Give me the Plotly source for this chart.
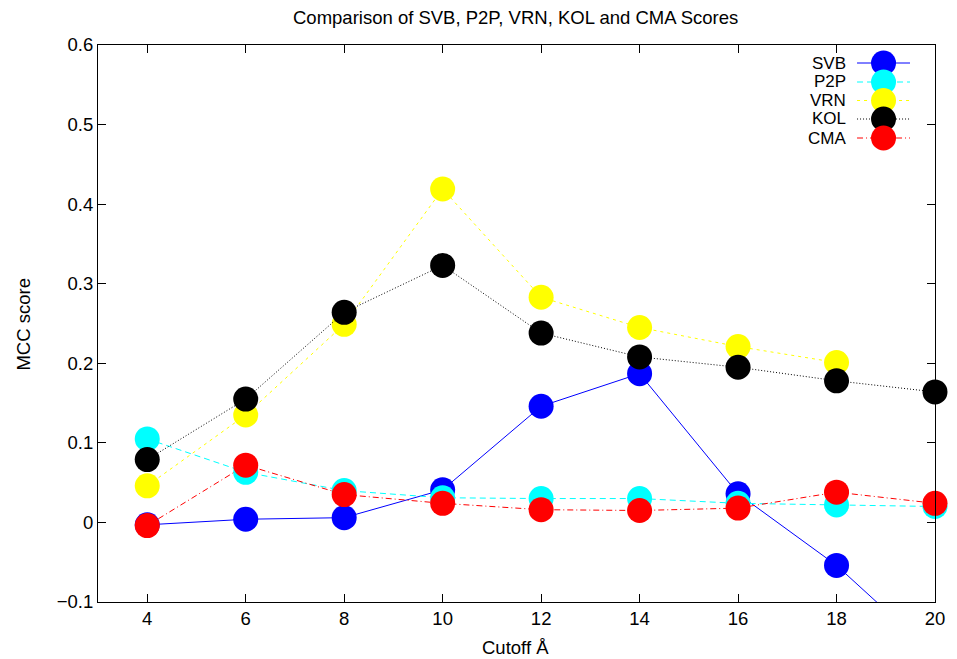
import plotly.graph_objects as go

cutoff = [4, 6, 8, 10, 12, 14, 16, 18, 20]
svb = [-0.003, 0.004, 0.006, 0.041, 0.146, 0.187, 0.036, -0.054, -0.167]
p2p = [0.105, 0.063, 0.040, 0.031, 0.030, 0.030, 0.024, 0.022, 0.020]
vrn = [0.046, 0.135, 0.249, 0.419, 0.283, 0.245, 0.221, 0.201, None]
kol = [0.079, 0.155, 0.264, 0.323, 0.238, 0.208, 0.195, 0.178, 0.164]
cma = [-0.004, 0.072, 0.035, 0.024, 0.016, 0.015, 0.018, 0.038, 0.024]

names = ["SVB", "P2P", "VRN", "KOL", "CMA"]
colors = ["#0000ff", "#00ffff", "#ffff00", "#000000", "#ff0000"]
dashes = ["solid", "6px,4px", "3px,4px", "1px,2px", "6px,3px,1px,3px"]
series = [svb, p2p, vrn, kol, cma]

FONT = "Liberation Sans, Arial, Helvetica, sans-serif"
FS = 18.5
LEG_FS = 17

fig = go.Figure()
for name, col, dash, ys in zip(names, colors, dashes, series):
    fig.add_trace(go.Scatter(
        x=cutoff, y=ys, name=name, mode="lines+markers",
        line=dict(color=col, width=1, dash=dash),
        marker=dict(color=col, size=25, line=dict(width=0)),
        cliponaxis=(name == "SVB"),
        showlegend=False,
    ))

FW, FH = 957, 659
# plot area in page pixels
L, R, T, B = 97.5, 935.0, 45.0, 602.0
W, H = R - L, B - T


def px(x):
    return (x - L) / W


def py(y):
    return (B - y) / H


shapes = []
annotations = []
row_y = [63, 82, 100.5, 119, 138]
for name, col, dash, yy in zip(names, colors, dashes, row_y):
    shapes.append(dict(type="line", xref="paper", yref="paper",
                       x0=px(857), x1=px(910), y0=py(yy), y1=py(yy),
                       line=dict(color=col, width=1, dash=dash)))
    annotations.append(dict(text=name, xref="paper", yref="paper",
                            x=px(847), y=py(yy), xanchor="right", yanchor="middle",
                            borderpad=0,
                            showarrow=False, font=dict(family=FONT, size=LEG_FS, color="black")))
for name, col, yy in zip(names, colors, row_y):
    shapes.append(dict(type="circle", xref="paper", yref="paper",
                       xsizemode="pixel", ysizemode="pixel",
                       xanchor=px(883.5), yanchor=py(yy),
                       x0=-12.5, x1=12.5, y0=-12.5, y1=12.5,
                       fillcolor=col, line=dict(width=0)))

# axis titles and chart title
annotations.append(dict(text="Cutoff Å", xref="paper", yref="paper",
                        x=px(515), y=py(647), xanchor="center", yanchor="middle",
                        showarrow=False, font=dict(family=FONT, size=FS, color="black")))
annotations.append(dict(text="MCC score", xref="paper", yref="paper",
                        x=px(22), y=py(324), xanchor="center", yanchor="middle",
                        textangle=-90,
                        showarrow=False, font=dict(family=FONT, size=FS, color="black")))
annotations.append(dict(text="Comparison of SVB, P2P, VRN, KOL and CMA Scores",
                        xref="paper", yref="paper",
                        x=px(515.5), y=py(18), xanchor="center", yanchor="middle",
                        showarrow=False, font=dict(family=FONT, size=FS, color="black")))

fig.update_layout(
    width=FW, height=FH,
    margin=dict(l=L, r=FW - R, t=T, b=FH - B, autoexpand=False),
    paper_bgcolor="white", plot_bgcolor="white",
    font=dict(family=FONT, size=FS, color="black"),
    shapes=shapes, annotations=annotations,
    showlegend=False,
)
fig.update_xaxes(
    range=[3, 20], tickmode="array", tickvals=cutoff,
    ticks="inside", ticklen=8, tickcolor="black", tickwidth=1,
    showline=True, linecolor="black", linewidth=1, mirror="ticks",
    showgrid=False, zeroline=False, automargin=False,
    tickfont=dict(family=FONT, size=FS),
)
fig.update_yaxes(
    range=[-0.1, 0.6], dtick=0.1, tick0=0,
    ticks="inside", ticklen=8, tickcolor="black", tickwidth=1,
    showline=True, linecolor="black", linewidth=1, mirror="ticks",
    showgrid=False, zeroline=False, automargin=False,
    tickfont=dict(family=FONT, size=FS),
)

fig.write_html(
    "out.html",
    config={"displayModeBar": False},
    post_script="document.body.style.margin='0';document.body.style.overflow='hidden';",
)
